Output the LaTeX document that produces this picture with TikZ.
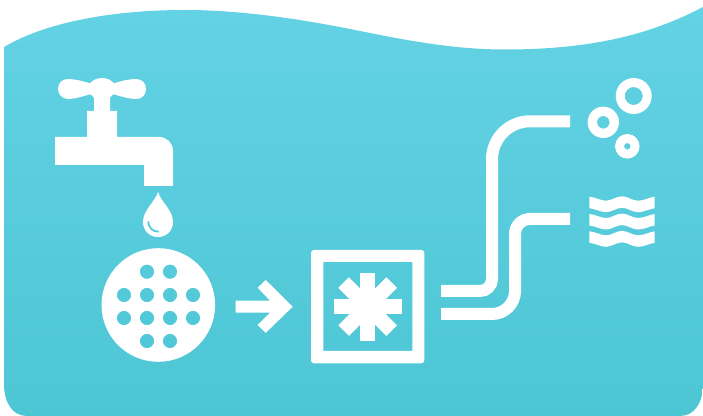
\documentclass[tikz,border=0pt]{standalone}
\usepackage{xcolor}
\definecolor{watertop}{HTML}{63D2E4}
\definecolor{watermid}{HTML}{4ECCDE}
\definecolor{waterlow}{HTML}{4DC6D4}

\begin{document}
\begin{tikzpicture}[
  x=0.75pt,
  y=-0.75pt,
  icon/.style={fill=white, draw=none},
  pipe/.style={white, line width=9pt, line cap=butt}
]
  \useasboundingbox (0,0) rectangle (703,416);

  % ---- wavy panel -------------------------------------------------------
  \shade[top color=watertop, middle color=watermid, bottom color=waterlow]
    (4,47) .. controls (50,20) and (120,10) .. (185,10)
    .. controls (240,10) and (300,19) .. (350,29)
    .. controls (400,39) and (450,49.5) .. (505,49.5)
    .. controls (590,49.5) and (650,35) .. (703,7)
    -- (703,384) .. controls (703,402) and (695,416) .. (680,416)
    -- (27,416) .. controls (12,416) and (4,402) .. (4,384)
    -- cycle;

  % ---- tap --------------------------------------------------------------
  \fill[icon]
    (94,111) -- (94,98) .. controls (93,96) and (92,95) .. (90,94.3)
    .. controls (82,96.5) and (75,99) .. (68,99)
    .. controls (62,99) and (58,94) .. (58,89)
    .. controls (58,83) and (62,79) .. (68,79)
    .. controls (75,79) and (82,81) .. (90,83.3)
    .. controls (93,80) and (97,78) .. (102,78)
    .. controls (107,78) and (111,80) .. (114,83.3)
    .. controls (121,81) and (129,79) .. (136,79)
    .. controls (142,79) and (146,83) .. (146,89)
    .. controls (146,95) and (142,99) .. (136,99)
    .. controls (129,99) and (121,96.5) .. (114,94.3)
    .. controls (112,95) and (111,96) .. (110,98)
    -- (110,111) -- (117,111) -- (117,137) -- (159,137)
    .. controls (167,137) and (173,143) .. (173,151)
    -- (173,186) -- (144,186) -- (144,165) -- (55,165) -- (55,137)
    -- (87,137) -- (87,111) -- cycle;

  % ---- drop -------------------------------------------------------------
  \fill[icon]
    (158,192) .. controls (161,202) and (173,210) .. (173,222)
    .. controls (173,230.5) and (166.5,237) .. (158,237)
    .. controls (149.5,237) and (143,230.5) .. (143,222)
    .. controls (143,210) and (155,202) .. (158,192) -- cycle;
  \draw[watermid, line width=1.3pt, line cap=round]
    (148.3,222) .. controls (148.5,227) and (152,231.5) .. (158.3,231.7);

  % ---- strainer ---------------------------------------------------------
  \fill[icon, even odd rule]
    (158.3,305) circle [radius=56.8]
    \foreach \hx/\hy in {147/271.7,170/271.7,
                         124/295,147/295,170/295,193/295,
                         124/318,147/318,170/318,193/318,
                         147/341,170/341}
      { (\hx,\hy) circle [radius=7.2] };

  % ---- arrow ------------------------------------------------------------
  \fill[icon]
    (235.5,300.7) -- (270,300.7) -- (257.7,287.7) -- (265.7,280)
    -- (292.7,306.7) -- (265.7,332.9) -- (257.7,325) -- (270,312.7)
    -- (235.5,312.7) -- cycle;

  % ---- filter box and star ----------------------------------------------
  \fill[icon, even odd rule]
    (314,250) -- (421.3,250) .. controls (423,250) and (424.3,251.3) .. (424.3,253)
    -- (424.3,360.3) .. controls (424.3,362) and (423,363.3) .. (421.3,363.3)
    -- (314,363.3) .. controls (312.3,363.3) and (311,362) .. (311,360.3)
    -- (311,253) .. controls (311,251.3) and (312.3,250) .. (314,250) -- cycle
    (323.3,262) rectangle (412.3,351);
  \foreach \a in {0,45,90,135}
    \fill[icon, shift={(367.7,306.6)}, rotate=\a] (-7.5,-34) rectangle (7.5,34);

  % ---- pipes ------------------------------------------------------------
  \draw[pipe] (441,291) -- (480,291)
    .. controls (486.6,291) and (492,285.6) .. (492,279)
    -- (492,159.3) .. controls (492,138.3) and (509,121.3) .. (530,121.3)
    -- (570,121.3);
  \draw[pipe] (441,314) -- (492,314)
    .. controls (504.7,314) and (515,303.7) .. (515,291)
    -- (515,234) .. controls (515,225.7) and (521.7,219) .. (530,219)
    -- (570,219);

  % ---- bubbles ----------------------------------------------------------
  \fill[icon, even odd rule] (633.7,96) circle [radius=18] (633.7,96) circle [radius=9];
  \fill[icon, even odd rule] (603.3,122.3) circle [radius=15.7] (603.3,122.3) circle [radius=6.3];
  \fill[icon, even odd rule] (627.3,146.3) circle [radius=12.3] (627.3,146.3) circle [radius=3.3];

  % ---- waves ------------------------------------------------------------
  \foreach \dy in {0,17.3,34.6}
    \fill[icon, yshift=-0.75pt*\dy]
      (589.3,196.7) .. controls (596,197.5) and (601,200.7) .. (606,200.7)
      .. controls (612,200.7) and (616,196.3) .. (622,196.3)
      .. controls (628,196.3) and (632,200.7) .. (638,200.7)
      .. controls (644,200.7) and (649,197.5) .. (654.7,196.7)
      -- (654.7,208.2) .. controls (649,209) and (644,212.2) .. (638,212.2)
      .. controls (632,212.2) and (628,207.8) .. (622,207.8)
      .. controls (616,207.8) and (612,212.2) .. (606,212.2)
      .. controls (601,212.2) and (596,209) .. (589.3,208.2) -- cycle;

\end{tikzpicture}
\end{document}
